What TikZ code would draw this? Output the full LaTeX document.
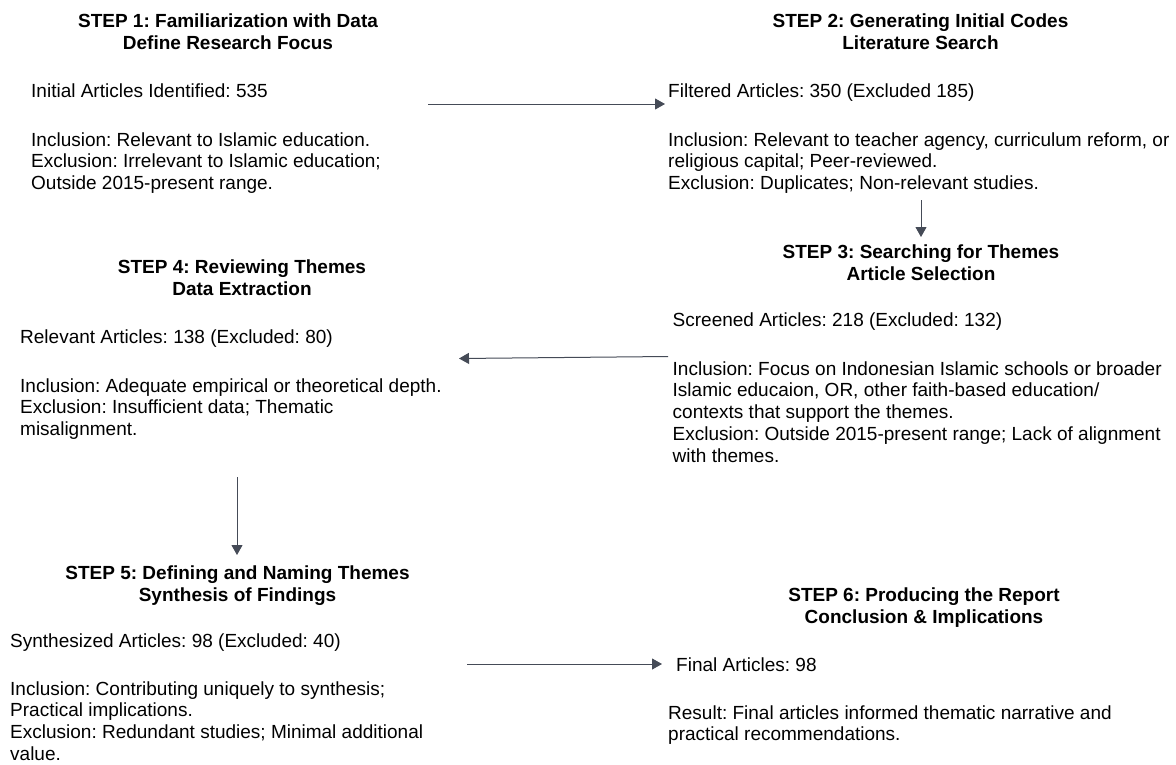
\documentclass[tikz,border=0pt]{standalone}
\usepackage{fontspec}
\setmainfont{Liberation Sans}
\frenchspacing
\usetikzlibrary{arrows.meta}
\definecolor{linec}{HTML}{454B57}
\tikzset{
  ttl/.style={font=\frenchspacing\bfseries\fontsize{19}{22}\selectfont, align=center, inner sep=0pt, anchor=base},
  body/.style={font=\frenchspacing\fontsize{19}{21.8}\selectfont, align=left, inner sep=0pt, anchor=base west},
  conn/.style={draw=linec, line width=1pt, -{Triangle[length=10pt,width=11pt]}}
}
\begin{document}
\begin{tikzpicture}[x=1pt,y=-1pt]
\path[use as bounding box, fill=white] (0,0) rectangle (1176,764);

% STEP 1 (anchor = baseline of the last line)
\node[ttl] (s1t) at (228,49.3) {STEP 1: Familiarization with Data\\Define Research Focus};
\node[body] (s1n) at (31,97) {Initial Articles Identified: 535};
\node[body] (s1c) at (31,189.6) {Inclusion: Relevant to Islamic education.\\Exclusion: Irrelevant to Islamic education;\\Outside 2015-present range.};

% STEP 2
\node[ttl] (s2t) at (920.5,49.3) {STEP 2: Generating Initial Codes\\Literature Search};
\node[body] (s2n) at (668,97) {Filtered Articles: 350 (Excluded 185)};
\node[body] (s2c) at (668,189.6) {Inclusion: Relevant to teacher agency, curriculum reform, or\\religious capital; Peer-reviewed.\\Exclusion: Duplicates; Non-relevant studies.};

% STEP 3
\node[ttl] (s3t) at (921,280.7) {STEP 3: Searching for Themes\\Article Selection};
\node[body] (s3n) at (672.5,326.7) {Screened Articles: 218 (Excluded: 132)};
\node[body] (s3c) at (672.5,462.2) {Inclusion: Focus on Indonesian Islamic schools or broader\\Islamic educaion, OR, other faith-based education/\\contexts that support the themes.\\Exclusion: Outside 2015-present range; Lack of alignment\\with themes.};

% STEP 4
\node[ttl] (s4t) at (242,295) {STEP 4: Reviewing Themes\\Data Extraction};
\node[body] (s4n) at (20,343) {Relevant Articles: 138 (Excluded: 80)};
\node[body] (s4c) at (20,435.6) {Inclusion: Adequate empirical or theoretical depth.\\Exclusion: Insufficient data; Thematic\\misalignment.};

% STEP 5
\node[ttl] (s5t) at (237.5,601.7) {STEP 5: Defining and Naming Themes\\Synthesis of Findings};
\node[body] (s5n) at (10,647) {Synthesized Articles: 98 (Excluded: 40)};
\node[body] (s5c) at (10,760.4) {Inclusion: Contributing uniquely to synthesis;\\Practical implications.\\Exclusion: Redundant studies; Minimal additional\\value.};

% STEP 6
\node[ttl] (s6t) at (924,623.3) {STEP 6: Producing the Report\\Conclusion \& Implications};
\node[body] (s6n) at (676,671) {Final Articles: 98};
\node[body] (s6c) at (668,740.8) {Result: Final articles informed thematic narrative and\\practical recommendations.};

% connectors
\coordinate (a1s) at (428,104);
\coordinate (a1e) at (665,104);
\coordinate (a2s) at (921,200);
\coordinate (a2e) at (921,237);
\coordinate (a3s) at (668,356.5);
\coordinate (a3e) at (459,358.5);
\coordinate (a4s) at (237,477);
\coordinate (a4e) at (237,555);
\coordinate (a5s) at (467,664);
\coordinate (a5e) at (662,664);
\draw[conn] (a1s) -- (a1e);
\draw[conn] (a2s) -- (a2e);
\draw[conn] (a3s) -- (a3e);
\draw[conn] (a4s) -- (a4e);
\draw[conn] (a5s) -- (a5e);
\end{tikzpicture}
\end{document}
